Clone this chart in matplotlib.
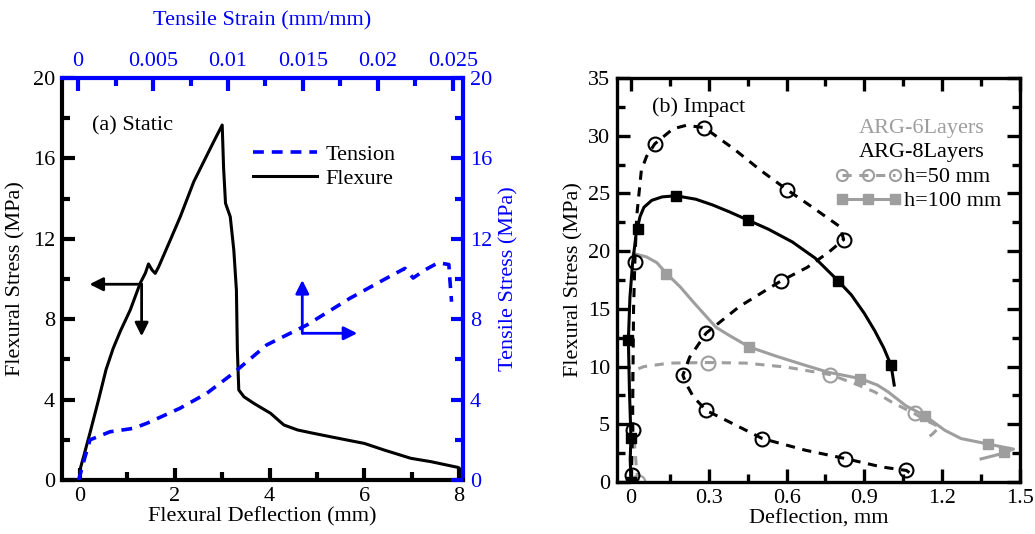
import matplotlib
import matplotlib.pyplot as plt
from matplotlib import font_manager
from matplotlib.ticker import MultipleLocator, FuncFormatter

plt.rcParams['font.family'] = 'serif'
plt.rcParams['font.serif'] = ['Liberation Serif', 'DejaVu Serif']
plt.rcParams['font.size'] = 16

# (a) static flexure: deflection (mm) vs flexural stress (MPa)
flex_defl = [0, 0.01, 0.08, 0.21, 0.39, 0.55, 0.70, 0.85, 1.06, 1.27, 1.38, 1.445, 1.52,
             1.587, 1.66, 1.905, 2.116, 2.40, 2.575, 2.82, 3.0, 3.03, 3.07, 3.17, 3.245,
             3.30, 3.32, 3.35, 3.46, 3.67, 4.02, 4.30, 4.59, 4.87, 5.29, 6.0, 6.42, 6.98,
             7.41, 7.97, 8.0, 8.0]
flex_stress = [0, 0.6, 1.2, 2.34, 3.98, 5.5, 6.55, 7.4, 8.46, 9.79, 10.3, 10.75, 10.45,
               10.28, 10.61, 11.94, 13.1, 14.84, 15.67, 16.83, 17.66, 15.5, 13.77, 13.1,
               11.44, 9.45, 6.5, 4.48, 4.14, 3.81, 3.32, 2.74, 2.49, 2.35, 2.15, 1.82,
               1.49, 1.08, 0.91, 0.63, 0.6, 0]

# (a) tension: strain (mm/mm) vs tensile stress (MPa)
ten_strain = [0, 0.00007, 0.00047, 0.0008, 0.00213, 0.00369, 0.00458, 0.0068, 0.00858,
              0.01035, 0.01258, 0.01525, 0.01813, 0.02035, 0.0218, 0.02235, 0.02313,
              0.02402, 0.02473, 0.0248, 0.02491]
ten_stress = [0, 0.08, 1.16, 2.0, 2.4, 2.57, 2.82, 3.57, 4.31, 5.31, 6.72, 7.71, 9.04,
              9.95, 10.53, 10.05, 10.45, 10.81, 10.72, 9.95, 8.87]

# (b) impact: ARG-8Layers h=50 mm (curve and measured points)
b8_50_x = [0.0, 0.002, 0.006, 0.008, 0.01, 0.015, 0.022, 0.04, 0.06, 0.092, 0.162, 0.213,
           0.283, 0.4, 0.5, 0.603, 0.7, 0.807, 0.82, 0.762, 0.68, 0.577, 0.418, 0.29, 0.226,
           0.20, 0.213, 0.24, 0.29, 0.392, 0.507, 0.673, 0.826, 0.967, 1.062, 1.088]
b8_50_y = [0.0, 0.7, 4.5, 10.0, 15.0, 19.06, 23.0, 27.0, 28.2, 29.3, 30.6, 30.9,
           30.7, 28.8, 27.0, 25.3, 23.8, 22.1, 21.0, 19.9, 18.6, 17.4, 15.2, 12.9, 10.8,
           9.25, 8.5, 7.4, 6.2, 5.06, 3.76, 2.75, 2.03, 1.3, 1.0, 0.58]
b8_50_px = [0.003, 0.006, 0.015, 0.092, 0.283, 0.603, 0.82, 0.577, 0.29, 0.20, 0.29,
            0.507, 0.826, 1.062]
b8_50_py = [0.6, 4.5, 19.06, 29.3, 30.7, 25.3, 21.0, 17.4, 12.9, 9.25, 6.2, 3.76, 2.03, 1.0]

# ARG-8Layers h=100 mm
b8_100_x = [0, -0.003, 0, -0.006, -0.01, -0.004, 0.006, 0.02, 0.035, 0.05, 0.08, 0.12,
            0.172, 0.25, 0.315, 0.38, 0.45, 0.53, 0.622, 0.71, 0.8, 0.85, 0.9, 0.94,
            0.975, 1.003, 1.015]
b8_100_y = [0, 2.0, 3.8, 8.0, 12.3, 16.0, 18.9, 21.5, 23.0, 23.8, 24.4, 24.7,
            24.8, 24.5, 24.0, 23.4, 22.7, 21.9, 20.8, 19.4, 17.4, 16.2, 14.6, 13.1,
            11.6, 10.1, 8.4]
b8_100_px = [0, 0, -0.01, 0.028, 0.172, 0.45, 0.8, 1.003]
b8_100_py = [0, 3.8, 12.3, 21.9, 24.8, 22.7, 17.4, 10.1]

# ARG-6Layers h=50 mm
b6_50_x = [0.027, 0.02, 0.015, 0.008, 0.004, 0.005, 0.05, 0.15, 0.296, 0.443, 0.6,
           0.769, 0.865, 0.94, 1.005, 1.095, 1.15, 1.19, 1.16, 1.133]
b6_50_y = [0, 1.5, 3.0, 5.0, 7.5, 9.6, 10.0, 10.3, 10.35, 10.3, 9.95,
           9.3, 8.5, 7.8, 6.93, 5.9, 5.2, 4.77, 4.1, 3.7]
b6_50_px = [0.027, 0.296, 0.769, 1.095]
b6_50_py = [0, 10.3, 9.3, 5.95]

# ARG-6Layers h=100 mm
b6_100_x = [0.009, 0.06, 0.1, 0.137, 0.19, 0.24, 0.328, 0.379, 0.456, 0.56, 0.673,
            0.762, 0.884, 0.95, 0.992, 1.06, 1.133, 1.21, 1.273, 1.375, 1.44, 1.475,
            1.42, 1.35]
b6_100_y = [19.8, 19.5, 19.0, 18.06, 16.9, 15.6, 13.4, 12.7, 11.7, 10.9, 10.1,
            9.5, 8.96, 8.4, 7.8, 6.6, 5.75, 4.48, 3.76, 3.3, 3.0, 2.85, 2.4, 2.0]
b6_100_px = [0.137, 0.456, 0.884, 1.133, 1.375, 1.44]
b6_100_py = [18.06, 11.7, 8.96, 5.75, 3.3, 2.6]

blue = '#0000ff'
gray = '#9e9e9e'
fmt = FuncFormatter(lambda v, p: f'{v:g}')

fig = plt.figure(figsize=(10.35, 5.34), dpi=100)

# ---------------- (a) Static ----------------
ax = fig.add_axes([0.0599, 0.1011, 0.3874, 0.7528])
fline, = ax.plot(flex_defl, flex_stress, color='k', lw=2.2, label='Flexure')
ax.set_xlim(-0.38, 8.08)
ax.set_ylim(0, 20)
ax.xaxis.set_major_locator(MultipleLocator(2))
ax.xaxis.set_minor_locator(MultipleLocator(1))
ax.yaxis.set_major_locator(MultipleLocator(4))
ax.yaxis.set_minor_locator(MultipleLocator(2))
ax.tick_params(which='both', direction='in', width=3, colors='k', labelsize=16, pad=5)
ax.tick_params(which='major', length=9)
ax.tick_params(which='minor', length=5.5)
ax.set_xlabel('Flexural Deflection (mm)', labelpad=1)
ax.set_ylabel('Flexural Stress (MPa)', labelpad=5)
for s in ['left', 'bottom']:
    ax.spines[s].set_linewidth(3)
for s in ['top', 'right']:
    ax.spines[s].set_linewidth(3)
    ax.spines[s].set_color(blue)

ax_t = fig.add_axes(ax.get_position(), frameon=False)
tline, = ax_t.plot(ten_strain, ten_stress, color=blue, lw=2.6, ls=(0, (3, 2.2)),
                   label='Tension')
ax_t.set_xlim(-0.00107, 0.02567)
ax_t.set_ylim(0, 20)
ax_t.xaxis.tick_top()
ax_t.xaxis.set_label_position('top')
ax_t.yaxis.tick_right()
ax_t.yaxis.set_label_position('right')
ax_t.xaxis.set_major_locator(MultipleLocator(0.005))
ax_t.xaxis.set_minor_locator(MultipleLocator(0.0025))
ax_t.xaxis.set_major_formatter(fmt)
ax_t.yaxis.set_major_locator(MultipleLocator(4))
ax_t.yaxis.set_minor_locator(MultipleLocator(2))
ax_t.tick_params(which='both', direction='in', width=3, colors=blue, labelsize=16, pad=5)
ax_t.tick_params(which='major', length=9)
ax_t.tick_params(which='minor', length=5.5)
ax_t.set_xlabel('Tensile Strain (mm/mm)', color=blue, labelpad=19)
ax_t.set_ylabel('Tensile Stress (MPa)', color=blue, labelpad=5)

ax.text(0.25, 17.6, '(a) Static', ha='left', va='center', fontsize=16)
ax_t.legend(handles=[tline, fline], loc='upper left', bbox_to_anchor=(0.476, 0.835),
            frameon=False, handlelength=2.9, handletextpad=0.35, borderpad=0,
            borderaxespad=0, labelspacing=0.15, fontsize=16)

arw = dict(arrowstyle='-|>', lw=2, mutation_scale=20, shrinkA=0, shrinkB=0)
ax.annotate('', xy=(0.2, 9.74), xytext=(1.30, 9.74), arrowprops=dict(arw, color='k'))
ax.annotate('', xy=(1.30, 7.15), xytext=(1.30, 9.74), arrowprops=dict(arw, color='k'))
ax.annotate('', xy=(4.69, 9.95), xytext=(4.69, 7.3), arrowprops=dict(arw, color=blue))
ax.annotate('', xy=(5.85, 7.3), xytext=(4.69, 7.3), arrowprops=dict(arw, color=blue))

# ---------------- (b) Impact ----------------
bx = fig.add_axes([0.5961, 0.0974, 0.3894, 0.7565])
bx.plot(b6_50_x, b6_50_y, color=gray, lw=2.2, ls=(0, (3, 2.5)))
bx.plot(b6_50_px, b6_50_py, ls='none', marker='o', ms=10, mfc='none', mec=gray, mew=1.5)
bx.plot(b6_100_x, b6_100_y, color=gray, lw=2.2)
bx.plot(b6_100_px, b6_100_py, ls='none', marker='s', ms=7.5, color=gray)
bx.plot(b8_50_x, b8_50_y, color='k', lw=2.2, ls=(0, (3, 2.5)))
bx.plot(b8_50_px, b8_50_py, ls='none', marker='o', ms=10, mfc='none', mec='k', mew=1.5)
bx.plot(b8_100_x, b8_100_y, color='k', lw=2.2)
bx.plot(b8_100_px, b8_100_py, ls='none', marker='s', ms=7.5, color='k')

bx.set_xlim(-0.054, 1.5)
bx.set_ylim(0, 35)
bx.xaxis.set_major_locator(MultipleLocator(0.3))
bx.xaxis.set_minor_locator(MultipleLocator(0.15))
bx.xaxis.set_major_formatter(fmt)
bx.yaxis.set_major_locator(MultipleLocator(5))
bx.yaxis.set_minor_locator(MultipleLocator(2.5))
bx.tick_params(which='both', direction='in', width=2.4, top=True, right=True,
               labelsize=16, pad=5)
bx.tick_params(which='major', length=9.5)
bx.tick_params(which='minor', length=5.5)
for s in bx.spines.values():
    s.set_linewidth(2.4)
bx.set_xlabel('Deflection, mm', labelpad=1)
bx.set_ylabel('Flexural Stress (MPa)', labelpad=3)
bx.text(0.08, 32.5, '(b) Impact', ha='left', va='center', fontsize=16)
bx.text(0.877, 30.65, 'ARG-6Layers', color=gray, ha='left', va='center', fontsize=16)
bx.text(0.877, 28.55, 'ARG-8Layers', color='k', ha='left', va='center', fontsize=16)

h50, = bx.plot([], [], color=gray, lw=2.2, ls=(0, (3, 2.5)), marker='o', ms=8,
               mfc='none', mec=gray, mew=1.5, label='h=50 mm')
h100, = bx.plot([], [], color=gray, lw=2.2, marker='s', ms=7.5, label='h=100 mm')
bx.legend(handles=[h50, h100], loc='upper left', bbox_to_anchor=(0.541, 0.78),
          frameon=False, numpoints=3, handlelength=3.0, handletextpad=0.1,
          borderpad=0, borderaxespad=0, labelspacing=0.15, fontsize=16)

fig.savefig('out.png', dpi=100)
